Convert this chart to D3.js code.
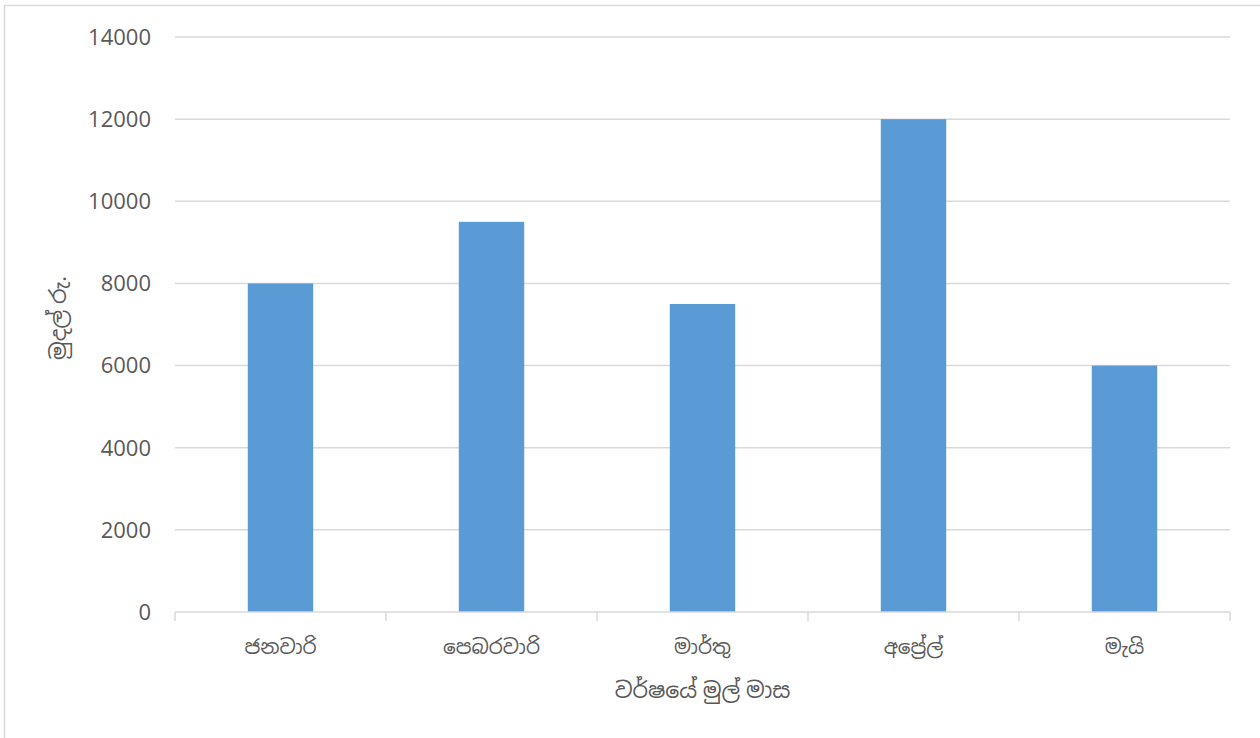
<!DOCTYPE html>
<html><head><meta charset="utf-8">
<script src="https://cdn.jsdelivr.net/npm/d3@7"></script>
<style>
html,body{margin:0;padding:0;background:#fff;}
text{font-family:"Open Sans","Noto Sans","Noto Sans Sinhala",sans-serif;fill:#595959;}
</style></head><body>
<svg id="c" width="1260" height="738"></svg>
<script>
const categories = ["ජනවාරි","පෙබරවාරි","මාර්තු","අප්‍රේල්","මැයි"];
const values = [8000, 9500, 7500, 12000, 6000];
const yTicks = [0,2000,4000,6000,8000,10000,12000,14000];
const xTitle = "වර්ෂයේ මුල් මාස";
const yTitle = "මුදල් රු.";

const svg = d3.select("#c");
svg.append("rect").attr("x",4.5).attr("y",5.5).attr("width",1262).attr("height",740)
  .attr("fill","#fff").attr("stroke","#D9D9D9").attr("stroke-width",1.5);

const pL=175, pR=1230, pT=37, pB=612;
const x = d3.scaleBand().domain(categories).range([pL,pR]).paddingInner(0.69).paddingOuter(0.345);
const xb = d3.scaleBand().domain(categories).range([pL,pR]);
const y = d3.scaleLinear().domain([0,14000]).range([pB,pT]);

svg.append("g").selectAll("line").data(yTicks.filter(d=>d>0)).join("line")
  .attr("x1",pL).attr("x2",pR).attr("y1",d=>y(d)).attr("y2",d=>y(d))
  .attr("stroke","#D9D9D9").attr("stroke-width",1.5);

svg.append("g").selectAll("rect").data(values).join("rect")
  .attr("x",(d,i)=>x(categories[i])).attr("width",x.bandwidth())
  .attr("y",d=>y(d)).attr("height",d=>pB-y(d)).attr("fill","#5B9BD5");

svg.append("line").attr("x1",pL).attr("x2",pR).attr("y1",pB).attr("y2",pB)
  .attr("stroke","#D9D9D9").attr("stroke-width",1.5);
const edges = categories.map(c=>xb(c)).concat([pR]);
svg.append("g").selectAll("line").data(edges).join("line")
  .attr("x1",d=>d).attr("x2",d=>d).attr("y1",pB).attr("y2",pB+9)
  .attr("stroke","#D9D9D9").attr("stroke-width",1.5);

svg.append("g").selectAll("text").data(yTicks).join("text")
  .attr("x",151).attr("y",d=>y(d)).attr("dy","0.36em").attr("text-anchor","end")
  .style("font-size","22px").text(d=>d);

svg.append("g").selectAll("text").data(categories).join("text")
  .attr("x",d=>xb(d)+xb.bandwidth()/2).attr("y",647).attr("dy","0.36em").attr("text-anchor","middle")
  .style("font-size","20px").text(d=>d);

svg.append("text").attr("x",(pL+pR)/2).attr("y",690).attr("dy","0.36em").attr("text-anchor","middle")
  .style("font-size","22px").text(xTitle);
svg.append("text").attr("transform","translate(58,318) rotate(-90)").attr("dy","0.36em").attr("text-anchor","middle")
  .style("font-size","22px").text(yTitle);
</script></body></html>
